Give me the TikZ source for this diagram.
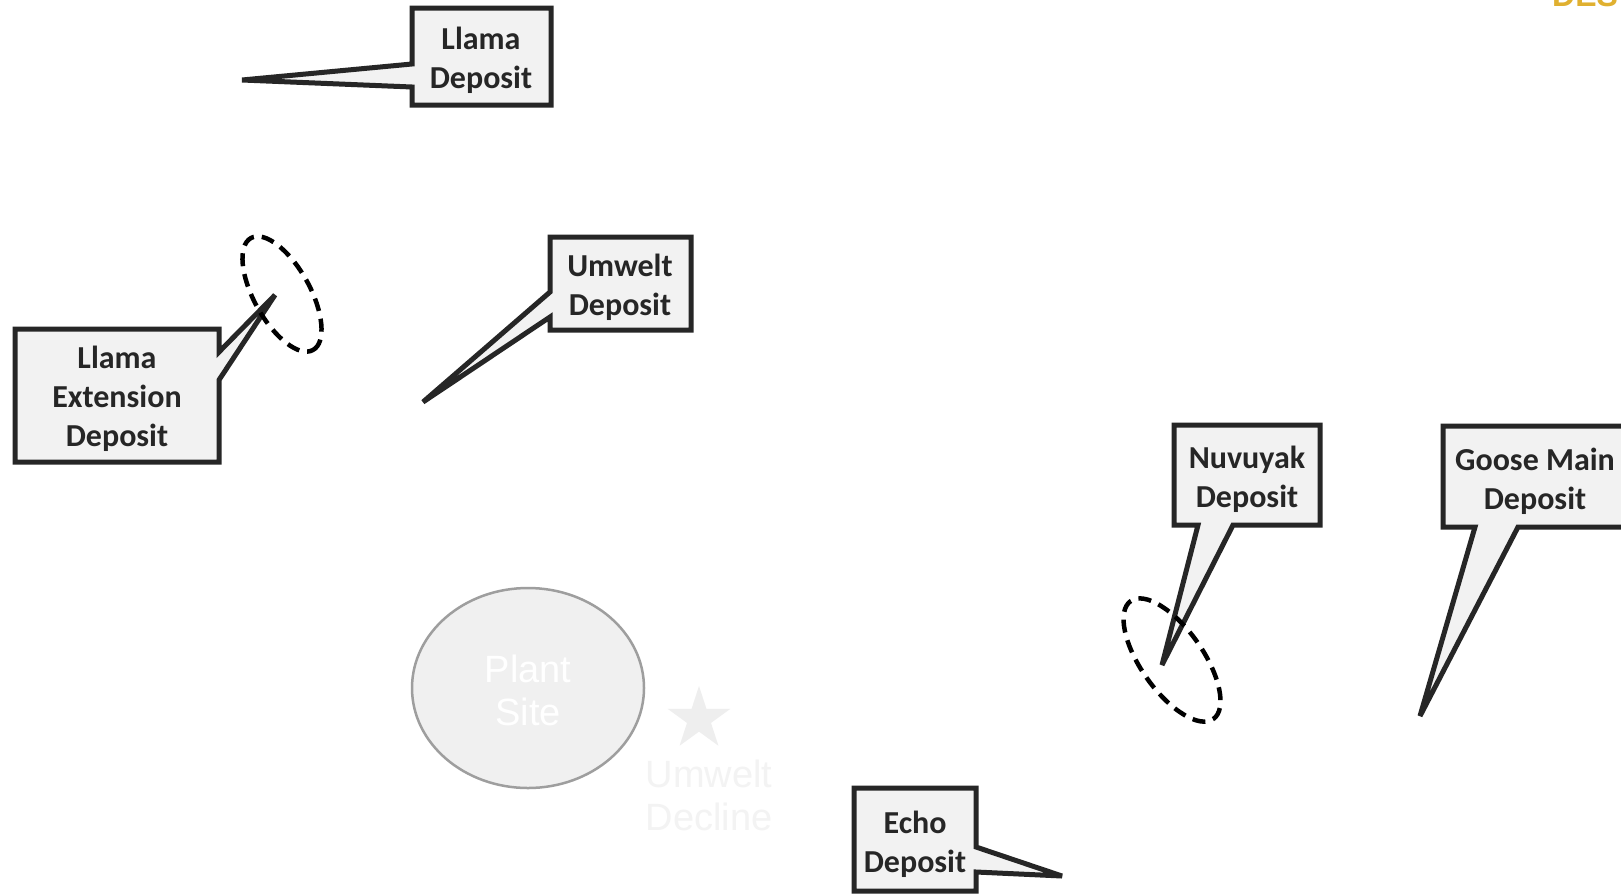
\documentclass[tikz,border=0pt]{standalone}
\usepackage{fontspec}
\newfontfamily\calib{Carlito}
\newfontfamily\arialf{Liberation Sans}
\usetikzlibrary{shapes.geometric}
\definecolor{boxfill}{HTML}{F2F2F2}
\definecolor{boxline}{HTML}{262626}
\definecolor{txt}{HTML}{262626}
\definecolor{plantfill}{HTML}{F0F0F0}
\definecolor{plantline}{HTML}{9E9E9E}
\definecolor{starfill}{HTML}{EEEEEE}
\definecolor{faint}{HTML}{F3F3F3}
\definecolor{gold}{HTML}{E0B030}
\tikzset{
  callout/.style={draw=boxline, fill=boxfill, line width=5pt, line join=miter, miter limit=4},
  lbl/.style={font=\calib\bfseries\fontsize{32}{39}\selectfont, text=txt, align=center, inner sep=0pt},
  area/.style={draw=black, line width=4.5pt, dash pattern=on 13pt off 8pt},
  plainlbl/.style={font=\arialf\fontsize{38}{43}\selectfont, align=center, inner sep=0pt}
}
\begin{document}
\begin{tikzpicture}[x=1pt,y=-1pt]
\useasboundingbox (0,0) rectangle (1621,894);
\clip (0,0) rectangle (1621,894);
\fill[white] (0,0) rectangle (1621,894);

% top-right cut-off text
\node[anchor=south west, inner sep=0pt, text=gold, font=\arialf\bfseries\fontsize{32}{36}\selectfont] (des) at (1552,7) {DES};

% plant site
\node[ellipse, draw=plantline, fill=plantfill, line width=2.5pt, minimum width=232pt, minimum height=200pt, inner sep=0pt] (plant) at (528,688) {};
\node[plainlbl, text=white] (plantlbl) at (528,690) {Plant\\Site};

% star + Umwelt Decline
\node[star, star points=5, star point ratio=2.618, fill=starfill, minimum size=66pt, inner sep=0pt] (star) at (699,719) {};
\node[plainlbl, text=faint] (decline) at (709,795) {Umwelt\\Decline};

% callouts
\draw[callout] (412,8) -- (551,8) -- (551,105) -- (412,105) -- (412,87) -- (242,80) -- (412,64) -- cycle;
\node[lbl] (llama) at (481,60) {Llama\\Deposit};

\draw[callout] (550,237) -- (691,237) -- (691,330) -- (550,330) -- (550,317) -- (423,402) -- (550,292) -- cycle;
\node[lbl] (umwelt) at (620,287) {Umwelt\\Deposit};

\draw[callout] (15,329) -- (219,329) -- (219,352) -- (275,295) -- (219,380) -- (219,462) -- (15,462) -- cycle;
\node[lbl] (llamaext) at (117,399) {Llama\\Extension\\Deposit};

\draw[callout] (1174,425) -- (1320,425) -- (1320,525) -- (1233,525) -- (1162,665) -- (1198,525) -- (1174,525) -- cycle;
\node[lbl] (nuvuyak) at (1247,479) {Nuvuyak\\Deposit};

\draw[callout] (1443,426) -- (1640,426) -- (1640,527) -- (1518,527) -- (1420,716) -- (1475,527) -- (1443,527) -- cycle;
\node[lbl] (goose) at (1535,481) {Goose Main\\Deposit};

\draw[callout] (854,788) -- (976,788) -- (976,847) -- (1062,876) -- (976,872) -- (976,891) -- (854,891) -- cycle;
\node[lbl] (echo) at (915,844) {Echo\\Deposit};

% dashed deposit outlines
\coordinate (lec) at (282,294);
\draw[area, rotate around={-61:(lec)}] (lec) ellipse [x radius=64pt, y radius=28pt];
\coordinate (nuc) at (1172,660);
\draw[area, rotate around={-55:(nuc)}] (nuc) ellipse [x radius=72pt, y radius=31pt];
\end{tikzpicture}
\end{document}
